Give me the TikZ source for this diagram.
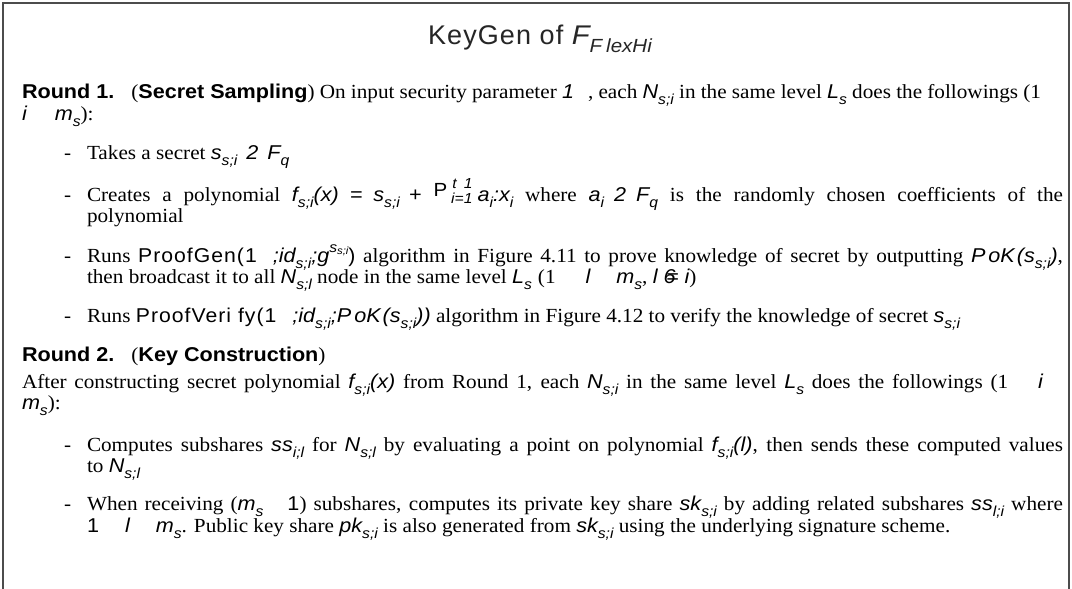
\documentclass[tikz,border=0pt]{standalone}
\usepackage{fontspec}
\setmainfont{Liberation Serif}[FakeStretch=1.06]
\newfontfamily\msans{Liberation Sans}[FakeStretch=1.08]
\newfontfamily\hsans{Liberation Sans}[LetterSpace=4]
\newfontfamily\psans{Liberation Sans}[FakeStretch=1.06,LetterSpace=5]

% variables and indices set in sloped sans
\newcommand\mv[1]{{\msans\itshape #1}}
\newcommand\smallmath[1]{{\msans\itshape\fontsize{14.5}{14.5}\selectfont #1}}
\newcommand\mysub[1]{\raisebox{-0.3em}{\smallmath{#1}}}
\newcommand\mysup[1]{\raisebox{0.5em}{\smallmath{#1}}}
\newcommand\bsf[1]{{\msans\bfseries #1}}
\newcommand\alg[1]{{\psans #1}}
\newcommand\gap[1]{\hspace*{#1pt}}
\newcommand\jl[2]{\hbox to #1pt{#2}}
\newcommand\neqsign{\mv{\rlap{6}\hspace{0.12em}=}}
\newcommand\sumP{\raisebox{0.25em}{\msans\fontsize{19}{19}\selectfont P}\gap{4}\raisebox{-0.14em}{\smallmath{i=1}}\llap{\raisebox{0.62em}{\smallmath{t\gap{7}1}}}}

\begin{document}
\begin{tikzpicture}[x=1pt,y=-1pt,
  txt/.style={anchor=base west, inner sep=0pt, outer sep=0pt, font=\fontsize{20}{21}\selectfont},
  bulletdash/.style={txt},
  frame/.style={draw=black!70, line width=1.1pt}]
\fill[white] (0,0) rectangle (1072,589);
\useasboundingbox (0,0) rectangle (1072,589);

% open frame: left, top and right sides
\coordinate (fbl) at (3,589);
\coordinate (ftl) at (3,3);
\coordinate (ftr) at (1069,3);
\coordinate (fbr) at (1069,589);
\draw[frame] (fbl) -- (ftl) -- (ftr) -- (fbr);

% heading
\node[anchor=base, inner sep=0pt, text=black!85] (title) at (540,44)
  {\fontsize{27}{27}\selectfont\hsans KeyGen of \mv{F}\raisebox{-0.33em}{\fontsize{19}{19}\selectfont\mv{F\gap{4}lexHi}}};

% round 1
\node[txt] (r1a) at (22,98) {\jl{1041}{\bsf{Round 1.}\gap{17}(\bsf{Secret Sampling}) On input security parameter \mv{1}\gap{14}, each \mv{N}\mysub{s;i} in the same level \mv{L}\mysub{s} does the followings (1\gap{22}}};
\node[txt] (r1b) at (22,120) {\mv{i}\gap{28}\mv{m}\mysub{s}):};

\node[bulletdash] (d1) at (64,159) {-};
\node[txt] (b1) at (87,159) {Takes a secret \mv{s}\mysub{s;i}\gap{9}\mv{2}\gap{9}\mv{F}\mysub{q}};

\node[bulletdash] (d2) at (64,201) {-};
\node[txt] (b2) at (87,201) {\jl{976}{Creates a polynomial \mv{f}\mysub{s;i}\mv{(x)}\gap{11}\mv{=}\gap{11}\mv{s}\mysub{s;i}\gap{9}\mv{+}\gap{12}\sumP\gap{5}\mv{a}\mysub{i}\mv{:x}\mysub{i} where \mv{a}\mysub{i}\gap{10}\mv{2}\gap{10}\mv{F}\mysub{q} is the randomly chosen coefficients of the}};
\node[txt] (b2b) at (87,222) {polynomial};

\node[bulletdash] (d3) at (64,262) {-};
\node[txt] (b3) at (87,262) {\jl{976}{Runs \alg{ProofGen(1}\gap{16}\mv{;id}\mysub{s;i}\mv{;g}\mysup{s\raisebox{-0.2em}{\fontsize{10.5}{10.5}\selectfont s;i}}\alg{)} algorithm in Figure 4.11 to prove knowledge of secret by outputting \mv{P\gap{3}oK}\gap{2}\mv{(s}\mysub{s;i}\mv{)},}};
\node[txt] (b3b) at (87,283) {then broadcast it to all \mv{N}\mysub{s;l} node in the same level \mv{L}\mysub{s}\gap{6}(1\gap{30}\mv{l}\gap{26}\mv{m}\mysub{s}, \mv{l}\gap{6}\neqsign\gap{6}\mv{i})};

\node[bulletdash] (d4) at (64,322) {-};
\node[txt] (b4) at (87,322) {Runs \alg{ProofVeri\gap{7}fy(1}\gap{16}\mv{;id}\mysub{s;i}\mv{;P\gap{3}oK\gap{2}(s}\mysub{s;i}\mv{))} algorithm in Figure 4.12 to verify the knowledge of secret \mv{s}\mysub{s;i}};

% round 2
\node[txt] (r2a) at (22,361) {\bsf{Round 2.}\gap{17}(\bsf{Key Construction})};
\node[txt] (r2b) at (22,388) {\jl{1041}{After constructing secret polynomial \mv{f}\mysub{s;i}\mv{(x)} from Round 1, each \mv{N}\mysub{s;i} in the same level \mv{L}\mysub{s} does the followings (1\gap{30}\mv{i}\gap{20}}};
\node[txt] (r2c) at (22,409) {\mv{m}\mysub{s}):};

\node[bulletdash] (d5) at (64,451) {-};
\node[txt] (b5) at (87,451) {\jl{976}{Computes subshares \mv{ss}\mysub{i;l} for \mv{N}\mysub{s;l} by evaluating a point on polynomial \mv{f}\mysub{s;i}\mv{(l)}, then sends these computed values}};
\node[txt] (b5b) at (87,472) {to \mv{N}\mysub{s;l}};

\node[bulletdash] (d6) at (64,510) {-};
\node[txt] (b6) at (87,510) {\jl{976}{When receiving (\mv{m}\mysub{s}\gap{24}{\msans 1}) subshares, computes its private key share \mv{sk}\mysub{s;i} by adding related subshares \mv{ss}\mysub{l;i} where}};
\node[txt] (b6b) at (87,532) {{\msans 1}\gap{26}\mv{l}\gap{26}\mv{m}\mysub{s}. Public key share \mv{pk}\mysub{s;i} is also generated from \mv{sk}\mysub{s;i} using the underlying signature scheme.};
\end{tikzpicture}
\end{document}
